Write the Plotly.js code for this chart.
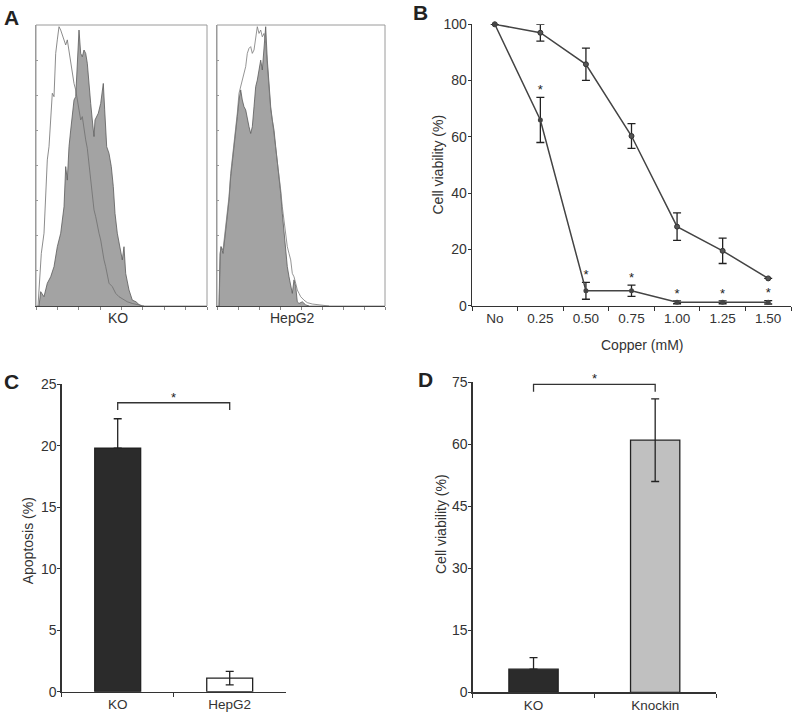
<!DOCTYPE html>
<html>
<head>
<meta charset="utf-8">
<script src="https://cdn.plot.ly/plotly-3.0.1.min.js"></script>
<style>html,body{margin:0;padding:0;background:#fff;}#chart{width:796px;height:718px;}</style>
</head>
<body>
<div id="chart"></div>
<script>
// ---------- Panel A: flow cytometry histograms (channel offset, % of max) ----------
const koFillX = [3, 4.7, 8, 11.3, 14.7, 18, 21.3, 24.7, 28, 29.7, 31.3, 33, 34.7, 36.3, 38, 39.7, 41.3, 43, 44.7, 46.3, 48, 49.7, 51.3, 53, 54.7, 56.3, 58, 59, 60.7, 62.3, 64.7, 67.3, 68.7, 70.7, 73, 75.3, 77.3, 79, 81.3, 84, 86.3, 88, 89.7, 93, 96.3, 100, 103, 106];
const koFillY = [0, 5.1, 3.3, 8.1, 10.4, 14, 21.1, 25.9, 35.3, 49.6, 44.8, 56.7, 62.6, 67.4, 73.3, 74.5, 84, 98.2, 89.9, 88.7, 91.1, 89.9, 86.4, 78.1, 72.1, 66.2, 60.3, 66.2, 67.4, 68.6, 72.1, 79.2, 69.8, 56.7, 54.3, 49.6, 42.5, 33, 25.9, 21.1, 16.4, 21.1, 11.6, 5.7, 2.1, 1.5, 0.5, 0];
const koCtrlX = [2, 4, 5.3, 8, 9.7, 11.3, 13, 14.7, 16.3, 18, 19.7, 21.3, 23, 24.7, 26.3, 28, 29.7, 31.3, 33, 34.7, 36.3, 38, 39.7, 41.3, 43, 44.7, 46.3, 48, 49.7, 51.3, 53, 54.7, 56.3, 58, 59.7, 61.3, 63, 64.7, 66.3, 68, 69.7, 71.3, 73, 76.3, 79.7, 83, 86.3, 91.3, 96.3, 103, 108];
const koCtrlY = [0, 11.6, 18.7, 25.9, 40.1, 52, 56.7, 66.2, 75.7, 74.5, 89.9, 94.7, 99.4, 98.2, 96.4, 95.3, 92.9, 94.7, 90.5, 87.5, 84, 79.2, 76.9, 73.3, 70.9, 66.2, 67.4, 62.6, 59.1, 56.1, 50.8, 46, 38.9, 34.2, 31.8, 28.2, 25.9, 23.5, 19.9, 16.4, 14, 10.4, 8.1, 6.9, 4.5, 3.3, 2.7, 1.5, 0.9, 0.5, 0];
const hepFillX = [2, 3, 4.3, 6, 8, 10.3, 12, 13.7, 15.3, 17, 18.7, 20.3, 22, 23.7, 25.3, 27, 28.7, 30.3, 32, 33.7, 35.3, 37, 38.7, 40.3, 42, 43.7, 45.3, 47, 48.7, 50.3, 52, 53.7, 55.3, 57, 58.7, 60.3, 62, 63.7, 65.3, 67, 68.7, 70.3, 72, 73.7, 75.3, 77, 78.7, 80.3, 82, 85.3, 88.7, 92];
const hepFillY = [0, 18.7, 21.1, 18.7, 24.7, 31.8, 37.7, 46, 50.8, 55.5, 61.4, 67.4, 73.3, 76.9, 73.3, 70.9, 69.8, 66.2, 63.8, 61.4, 63.8, 70.9, 78.1, 80.4, 84, 87.5, 84, 92.3, 99.4, 87.5, 78.1, 70.9, 66.2, 62.6, 56.7, 52, 46, 40.1, 33, 25.9, 18.7, 14, 10.4, 6.9, 4.5, 9.3, 6.9, 1.5, 0.9, 1.5, 0.4, 0];
const hepCtrlX = [2, 3.7, 6, 8, 10.3, 12, 13.7, 15.3, 17, 18.7, 20.3, 22, 23.7, 25.3, 27, 28.7, 30.3, 32, 33.7, 35.3, 37, 38.7, 40.3, 42, 43.7, 45.3, 47, 48.7, 50.3, 52, 53.7, 55.3, 57, 58.7, 60.3, 62, 63.7, 65.3, 67, 68.7, 70.3, 72, 73.7, 75.3, 77, 78.7, 80.3, 82, 83.7, 87, 90.3, 95.3, 105, 112];
const hepCtrlY = [0, 21.1, 19.9, 25.9, 33, 38.9, 47.2, 52, 56.7, 62.6, 68.6, 75.7, 78.1, 80.4, 82.8, 85.2, 89.9, 91.7, 92.3, 89.9, 91.1, 94.7, 99.4, 97, 98.2, 95.8, 97, 93.5, 86.4, 78.1, 69.8, 66.2, 61.4, 56.7, 52, 46, 41.3, 35.3, 30.4, 25.9, 21.1, 18.7, 16.4, 11.6, 10.4, 8.1, 5.7, 4.5, 3.3, 2.1, 1.2, 0.7, 0.3, 0];
const histLabels = ['KO', 'HepG2'];

// ---------- Panel B: cell viability vs copper ----------
const copperLabels = ['No', '0.25', '0.50', '0.75', '1.00', '1.25', '1.50'];
const viabUpper = [100, 97, 85.8, 60.3, 28.1, 19.5, 9.7];
const errUpper  = [0, 3, 5.7, 4.4, 4.9, 4.5, 0];
const viabLower = [100, 66, 5.3, 5.3, 1.2, 1.2, 1.2];
const errLower  = [0, 8, 3, 2, 0.5, 0.5, 0.6];
const starsLower = ['', '*', '*', '*', '*', '*', '*'];

// ---------- Panel C: apoptosis ----------
const cCats = ['KO', 'HepG2'];
const cVals = [19.8, 1.1];
const cErrUp = [2.4, 0.55];
const cErrDown = [0, 0.55];
const cBracket = 23.5;

// ---------- Panel D: cell viability ----------
const dCats = ['KO', 'Knockin'];
const dVals = [5.6, 61.0];
const dErrUp = [2.8, 10];
const dErrDown = [0, 10];
const dBracket = 74.5;

const FONT = 'Liberation Sans, Arial, Helvetica, sans-serif';
const AX = '#333';
const W = 796, H = 718;
const px = v => v / W;
const py = v => 1 - v / H;

const traces = [
  // A - KO
  {x: koFillX, y: koFillY, xaxis: 'x', yaxis: 'y', type: 'scatter', mode: 'lines', fill: 'tozeroy',
   fillcolor: '#a3a3a3', line: {color: '#5a5a5a', width: 0.8}, hoverinfo: 'skip'},
  {x: koCtrlX, y: koCtrlY, xaxis: 'x', yaxis: 'y', type: 'scatter', mode: 'lines',
   line: {color: '#6e6e6e', width: 0.8}, hoverinfo: 'skip'},
  // A - HepG2
  {x: hepFillX, y: hepFillY, xaxis: 'x2', yaxis: 'y2', type: 'scatter', mode: 'lines', fill: 'tozeroy',
   fillcolor: '#a3a3a3', line: {color: '#5a5a5a', width: 0.8}, hoverinfo: 'skip'},
  {x: hepCtrlX, y: hepCtrlY, xaxis: 'x2', yaxis: 'y2', type: 'scatter', mode: 'lines',
   line: {color: '#7a7a7a', width: 0.8}, hoverinfo: 'skip'},
  // B
  {x: copperLabels, y: viabUpper, xaxis: 'x3', yaxis: 'y3', type: 'scatter', mode: 'lines+markers',
   line: {color: '#444', width: 1.5}, marker: {color: '#555', size: 5, line: {color: '#333', width: 1}},
   error_y: {type: 'data', array: errUpper, visible: true, color: '#222', thickness: 1.3, width: 4},
   cliponaxis: false},
  {x: copperLabels, y: viabLower, xaxis: 'x3', yaxis: 'y3', type: 'scatter', mode: 'lines+markers',
   line: {color: '#444', width: 1.5}, marker: {color: '#444', size: 5},
   error_y: {type: 'data', array: errLower, visible: true, color: '#222', thickness: 1.3, width: 4},
   cliponaxis: false},
  {x: copperLabels, y: viabLower.map((v, i) => v + errLower[i]), text: starsLower, xaxis: 'x3', yaxis: 'y3',
   type: 'scatter', mode: 'text', textposition: 'top center',
   textfont: {family: FONT, size: 13, color: '#222'}, cliponaxis: false, hoverinfo: 'skip'},
  // C
  {x: cCats, y: cVals, xaxis: 'x4', yaxis: 'y4', type: 'bar', width: 0.41,
   marker: {color: ['#2b2b2b', '#ffffff'], line: {color: '#222', width: 1.3}},
   error_y: {type: 'data', symmetric: false, array: cErrUp, arrayminus: cErrDown, visible: true,
             color: '#222', thickness: 1.3, width: 4}},
  {x: [cCats[0], cCats[0], cCats[1], cCats[1]], y: [cBracket - 0.6, cBracket, cBracket, cBracket - 0.6],
   xaxis: 'x4', yaxis: 'y4', type: 'scatter', mode: 'lines', line: {color: '#333', width: 1.3}, hoverinfo: 'skip'},
  // D
  {x: dCats, y: dVals, xaxis: 'x5', yaxis: 'y5', type: 'bar', width: 0.405,
   marker: {color: ['#2b2b2b', '#c0c0c0'], line: {color: '#222', width: 1.3}},
   error_y: {type: 'data', symmetric: false, array: dErrUp, arrayminus: dErrDown, visible: true,
             color: '#222', thickness: 1.3, width: 4}},
  {x: [dCats[0], dCats[0], dCats[1], dCats[1]], y: [dBracket - 1.8, dBracket, dBracket, dBracket - 1.8],
   xaxis: 'x5', yaxis: 'y5', type: 'scatter', mode: 'lines', line: {color: '#333', width: 1.3}, hoverinfo: 'skip'}
];

const tickFontY = {family: FONT, size: 14, color: AX};
const tickFontX = {family: FONT, size: 13.5, color: AX};

function histX(domain, maxX) {
  return {domain: domain, range: [0, maxX], showgrid: false, zeroline: false, showline: true,
          linecolor: '#444', linewidth: 1.2, ticks: 'outside', ticklen: 3, tickcolor: '#888',
          tick0: 0, dtick: maxX / 8, showticklabels: false, fixedrange: true};
}
function histY(domain) {
  return {domain: domain, range: [0, 100], showgrid: false, zeroline: false, showline: true,
          linecolor: '#9a9a9a', linewidth: 1, ticks: 'inside', ticklen: 2, tickcolor: '#999',
          tick0: 0, dtick: 12.5, showticklabels: false, fixedrange: true};
}
function valY(domain, anchor, maxV, step) {
  return {domain: domain, anchor: anchor, range: [0, maxV], dtick: step, ticks: 'outside',
          ticklen: 3, tickcolor: AX, showline: true, linecolor: AX, linewidth: 1.4, showgrid: false,
          zeroline: false, tickfont: tickFontY, ticklabelstandoff: -2, fixedrange: true};
}
function catX(domain, anchor, maxI) {
  return {domain: domain, anchor: anchor, type: 'category', range: [-0.5, maxI + 0.5],
          tickson: 'boundaries', ticks: 'outside', ticklen: 4, tickcolor: AX, showline: true,
          linecolor: AX, linewidth: 1.4, showgrid: false, zeroline: false, tickfont: tickFontX, fixedrange: true};
}

const layout = {
  width: W, height: H,
  margin: {l: 0, r: 0, t: 0, b: 0},
  paper_bgcolor: '#fff', plot_bgcolor: 'rgba(0,0,0,0)',
  showlegend: false, hovermode: false,
  font: {family: FONT, color: AX},
  xaxis: Object.assign(histX([px(36), px(207)], 171), {anchor: 'y'}),
  yaxis: Object.assign(histY([py(306), py(25)]), {anchor: 'x'}),
  xaxis2: Object.assign(histX([px(217), px(385)], 168), {anchor: 'y2'}),
  yaxis2: Object.assign(histY([py(306), py(25)]), {anchor: 'x2'}),
  xaxis3: catX([px(472), px(791)], 'y3', copperLabels.length - 1),
  yaxis3: valY([py(305.7), py(24.3)], 'x3', 100, 20),
  xaxis4: catX([px(61.7), px(285.7)], 'y4', cCats.length - 1),
  yaxis4: valY([py(691.7), py(384.3)], 'x4', 25, 5),
  xaxis5: catX([px(472.7), px(716)], 'y5', dCats.length - 1),
  yaxis5: valY([py(692.3), py(382.3)], 'x5', 75, 15),
  shapes: [
    {type: 'rect', xref: 'x domain', yref: 'y domain', x0: 0, x1: 1, y0: 0, y1: 1,
     line: {color: '#9a9a9a', width: 1}, layer: 'below'},
    {type: 'rect', xref: 'x2 domain', yref: 'y2 domain', x0: 0, x1: 1, y0: 0, y1: 1,
     line: {color: '#9a9a9a', width: 1}, layer: 'below'}
  ],
  annotations: [
    {text: '<b>A</b>', xref: 'paper', yref: 'paper', x: px(11.7), y: py(17.5), xanchor: 'center', yanchor: 'middle',
     showarrow: false, font: {family: FONT, size: 21, color: '#222'}},
    {text: '<b>B</b>', xref: 'paper', yref: 'paper', x: px(420.8), y: py(12.5), xanchor: 'center', yanchor: 'middle',
     showarrow: false, font: {family: FONT, size: 21, color: '#222'}},
    {text: '<b>C</b>', xref: 'paper', yref: 'paper', x: px(11.7), y: py(381.7), xanchor: 'center', yanchor: 'middle',
     showarrow: false, font: {family: FONT, size: 21, color: '#222'}},
    {text: '<b>D</b>', xref: 'paper', yref: 'paper', x: px(425.8), y: py(379), xanchor: 'center', yanchor: 'middle',
     showarrow: false, font: {family: FONT, size: 21, color: '#222'}},
    {text: histLabels[0], xref: 'x domain', yref: 'paper', x: 0.48, y: py(318.3), xanchor: 'center', yanchor: 'middle',
     showarrow: false, font: {family: FONT, size: 14, color: AX}},
    {text: histLabels[1], xref: 'x2 domain', yref: 'paper', x: 0.45, y: py(318.3), xanchor: 'center', yanchor: 'middle',
     showarrow: false, font: {family: FONT, size: 14, color: AX}},
    {text: 'Copper (mM)', xref: 'paper', yref: 'paper', x: px(642), y: py(345), xanchor: 'center', yanchor: 'middle',
     showarrow: false, font: {family: FONT, size: 14, color: AX}},
    {text: 'Cell viability (%)', xref: 'paper', yref: 'paper', x: px(437.5), y: py(165), xanchor: 'center', yanchor: 'middle',
     textangle: -90, showarrow: false, font: {family: FONT, size: 14, color: AX}},
    {text: 'Apoptosis (%)', xref: 'paper', yref: 'paper', x: px(27.5), y: py(540.8), xanchor: 'center', yanchor: 'middle',
     textangle: -90, showarrow: false, font: {family: FONT, size: 14, color: AX}},
    {text: 'Cell viability (%)', xref: 'paper', yref: 'paper', x: px(440.8), y: py(524.2), xanchor: 'center', yanchor: 'middle',
     textangle: -90, showarrow: false, font: {family: FONT, size: 14, color: AX}},
    {text: '*', xref: 'x4', yref: 'y4', x: 0.5, y: cBracket, xanchor: 'center', yanchor: 'bottom', yshift: -4,
     showarrow: false, font: {family: FONT, size: 13, color: '#222'}},
    {text: '*', xref: 'x5', yref: 'y5', x: 0.5, y: dBracket, xanchor: 'center', yanchor: 'bottom', yshift: -4,
     showarrow: false, font: {family: FONT, size: 13, color: '#222'}}
  ]
};

Plotly.newPlot('chart', traces, layout, {displayModeBar: false, staticPlot: true});
</script>
</body>
</html>
